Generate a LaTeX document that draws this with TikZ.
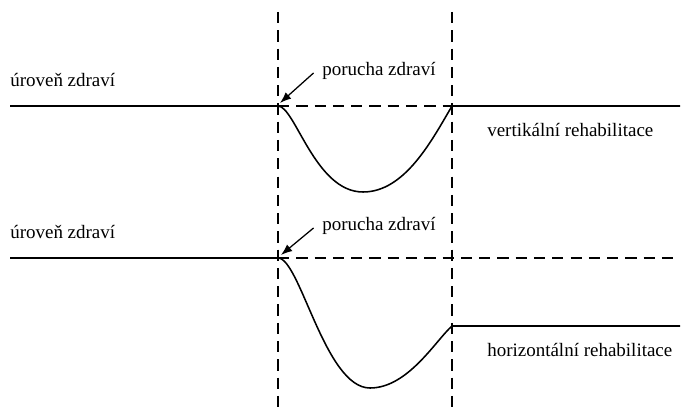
\documentclass[tikz,border=0pt]{standalone}
\usepackage{fontspec}
\setmainfont{Liberation Serif}
\usetikzlibrary{arrows.meta,positioning}

\begin{document}
\begin{tikzpicture}[x=0.025cm,y=-0.025cm,every node/.style={font=\fontsize{13.5}{16}\selectfont,inner sep=0pt,anchor=west},
      level/.style={line width=1.1pt},
      guide/.style={line width=0.8pt,dash pattern=on 8pt off 5pt},
      hit/.style={-{Latex[length=8pt,width=6pt]},line width=0.9pt}]
    \useasboundingbox (0,0) rectangle (681,407);
    % time marks
    \foreach \n/\x in {va/278,vb/452}{
      \coordinate (\n t) at (\x,12);
      \coordinate (\n b) at (\x,407);
      \draw[guide] (\n t) -- (\n b);}
    % vertical rehabilitation
    \coordinate (a0) at (10,106);  \coordinate (a1) at (278,106);
    \coordinate (a2) at (452,106); \coordinate (a3) at (680,106);
    \coordinate (am) at (363,192);
    \draw[guide] (a1) -- (a2);
    \draw[level] (a0) -- (a1) .. controls (295,106) and (315,192) .. (am)
                 .. controls (405,192) and (432,140) .. (a2) -- (a3);
    \node (lvl1) at (10,80)  {úroveň zdraví};
    \node (prc1) at (322,71) {porucha zdraví};
    \node (vrt)  at (487,130) {vertikální rehabilitace};
    \coordinate (h1) at (280,103);
    \draw[hit] ([xshift=-6pt,yshift=-1.4pt]prc1.west) -- (h1);
    % horizontal rehabilitation
    \coordinate (b0) at (10,258);  \coordinate (b1) at (278,258);
    \coordinate (b2) at (452,326); \coordinate (b3) at (680,326);
    \coordinate (bd) at (680,258); \coordinate (bm) at (370,388);
    \draw[guide] (b1) -- (bd);
    \draw[level] (b0) -- (b1) .. controls (300,258) and (325,388) .. (bm)
                 .. controls (408,388) and (436,340) .. (b2) -- (b3);
    \node (lvl2) at (10,232)  {úroveň zdraví};
    \node (prc2) at (322,226) {porucha zdraví};
    \node (hor)  at (487,350) {horizontální rehabilitace};
    \coordinate (h2) at (281,255);
    \draw[hit] ([xshift=-6pt,yshift=-1.4pt]prc2.west) -- (h2);
  \end{tikzpicture}
\end{document}
